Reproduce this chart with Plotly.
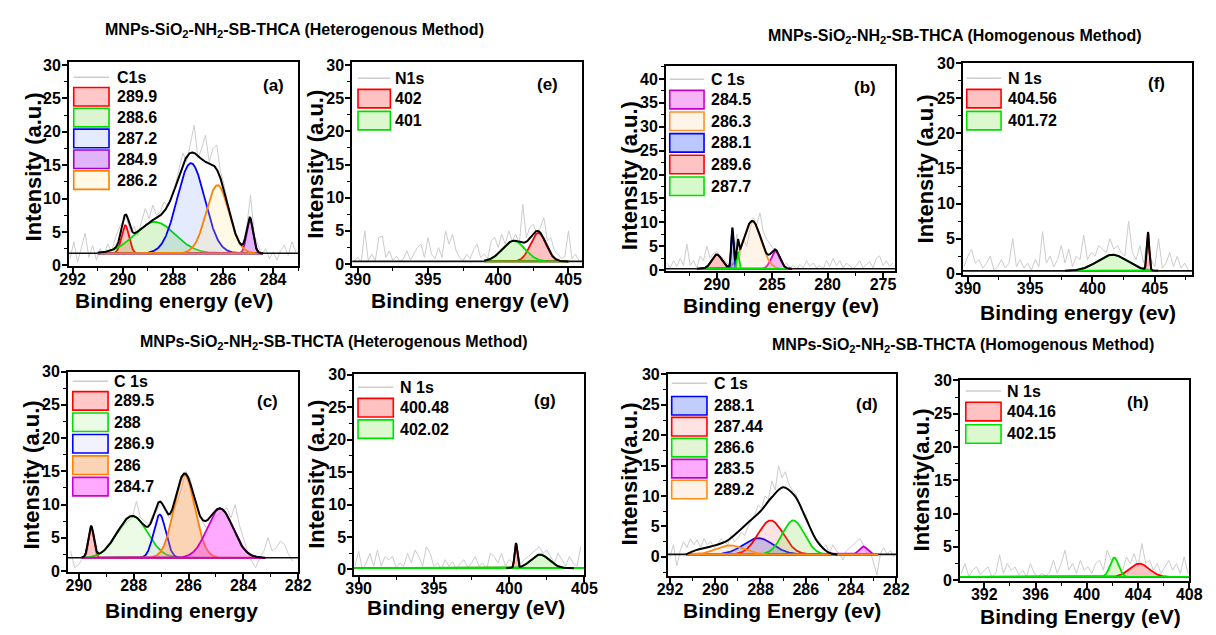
import numpy as np
import plotly.graph_objects as go

W, H = 1216, 635
FONT = "Liberation Sans, Arial, Helvetica, sans-serif"

# =========================== DATA ===========================
# (a) THCA heterogenous - C1s
a_raw_x0, a_raw_dx = 292.1, -0.15
a_raw_y = [1.0, 3.5, 0.5, 2.8, 4.8, 1.2, 3.0, 0.8, 2.5, 1.5, 3.2, 2.0, 4.0, 5.5, 6.5, 7.2,
           5.0, 5.8, 4.5, 6.5, 8.5, 7.0, 9.0, 7.5, 8.0, 9.5, 8.8, 10.5, 12.0, 14.5, 16.8,
           15.5, 18.0, 21.0, 16.0, 17.5, 19.5, 15.5, 17.5, 18.0, 14.0, 12.0, 9.0, 6.5, 5.0,
           3.5, 3.0, 6.0, 10.5, 4.5, 3.0, 1.5, 2.5, 1.0, 2.0, 0.8, 2.2, 3.0, 1.5, 3.5, 2.0]
a_baseline = 1.8
a_peak_labels = ["289.9", "288.6", "287.2", "284.9", "286.2"]
a_peak_center = [289.9, 288.72, 287.28, 284.93, 286.22]
a_peak_height = [4.2, 4.7, 13.5, 5.2, 10.2]
a_peak_sigma = [0.15, 0.8, 0.55, 0.13, 0.45]
a_fit_window = [291.0, 284.4]
a_xticks = [292, 290, 288, 286, 284]
a_yticks = [0, 5, 10, 15, 20, 25, 30]

# (e) THCA heterogenous - N1s
e_raw_x0, e_raw_dx = 389.75, 0.25
e_raw_y = [0.5, 1.0, 0.3, 5.0, 0.5, 1.5, 0.5, 4.0, 4.2, 1.0, 2.0, 0.5, 1.2, 0.4, 0.8, 2.0,
           0.6, 1.5, 2.5, 3.0, 1.0, 4.0, 1.5, 0.8, 2.5, 1.0, 5.0, 3.0, 4.5, 2.0, 1.0, 0.5,
           1.5, 0.8, 2.2, 3.0, 1.0, 1.5, 0.8, 3.5, 4.0, 2.5, 4.5, 3.0, 5.0, 3.5, 4.5, 3.0,
           9.0, 4.0, 5.5, 6.0, 4.5, 5.5, 7.0, 3.5, 4.0, 2.0, 1.5, 0.8, 1.2, 5.0, 0.8, 1.5, 0.5]
e_baseline = 0.4
e_peak_labels = ["402", "401"]
e_peak_center = [402.85, 401.1]
e_peak_height = [4.3, 3.1]
e_peak_sigma = [0.55, 0.8]
e_fit_window = [399.0, 405.0]
e_xticks = [390, 395, 400, 405]
e_yticks = [0, 5, 10, 15, 20, 25, 30]

# (b) THCA homogenous - C 1s
b_raw_x0, b_raw_dx = 294.5, -0.3
b_raw_y = [1.5, 0.5, 2.0, 0.8, 2.5, 1.0, 5.5, 1.0, 2.0, 0.5, 3.0, 2.0, 5.0, 2.5, 3.5, 4.0,
           3.0, 2.5, 1.5, 1.0, 2.0, 7.5, 3.0, 6.5, 5.0, 8.5, 11.0, 9.5, 12.0, 8.0, 6.5, 5.5,
           4.5, 3.5, 2.0, 1.0, 1.5, 0.5, 1.0, 0.3, 1.2, 0.5, 2.0, 0.8, 1.5, 0.5, 1.0, 0.3,
           2.0, 0.8, 2.5, 1.0, 2.0, 0.5, 1.5, 0.8, 0.3, 1.0, 2.0, 0.5, 1.2, 1.8, 0.5, 2.5,
           3.0, 1.0, 2.0, 0.8, 1.5]
b_baseline = 0.3
b_peak_labels = ["284.5", "286.3", "288.1", "289.6", "287.7"]
b_peak_center = [284.7, 286.8, 288.6, 290.0, 288.1]
b_peak_height = [3.7, 10.0, 7.8, 3.0, 3.5]
b_peak_sigma = [0.4, 0.8, 0.1, 0.45, 0.09]
b_fit_window = [291.8, 283.2]
b_xticks = [290, 285, 280, 275]
b_yticks = [0, 5, 10, 15, 20, 25, 30, 35, 40]

# (f) THCA homogenous - N 1s
f_raw_x0, f_raw_dx = 389.7, 0.3
f_raw_y = [1.0, 2.5, 3.5, 1.5, 2.0, 0.8, 1.5, 2.5, 0.5, 1.0, 2.0, 0.8, 1.5, 5.0, 1.0, 2.0,
           0.8, 1.5, 0.5, 2.0, 1.0, 6.0, 1.5, 2.5, 1.0, 2.0, 4.0, 1.5, 3.5, 1.0, 2.5, 2.0,
           5.5, 2.0, 3.0, 2.5, 4.0, 3.5, 3.0, 5.0, 3.5, 4.0, 3.0, 2.5, 7.5, 3.0, 2.0, 4.0,
           1.5, 5.0, 2.0, 1.0, 5.0, 0.8, 1.5, 3.0, 1.0, 2.5, 0.8, 1.5, 0.5]
f_baseline = 0.4
f_peak_labels = ["404.56", "401.72"]
f_peak_center = [404.45, 401.6]
f_peak_height = [5.4, 2.3]
f_peak_sigma = [0.1, 1.2]
f_fit_window = [397.8, 405.3]
f_xticks = [390, 395, 400, 405]
f_yticks = [0, 5, 10, 15, 20, 25, 30]

# (c) THCTA heterogenous - C 1s
c_raw_x0, c_raw_dx = 290.3, -0.15
c_raw_y = [3.0, 0.5, 1.0, 2.0, 2.5, 6.8, 3.5, 2.5, 3.0, 4.0, 4.5, 5.5, 6.0, 7.0, 7.5, 8.0,
           10.5, 8.0, 7.5, 7.0, 8.5, 9.0, 10.5, 9.0, 8.0, 9.0, 10.5, 12.5, 15.0, 14.0, 11.5,
           9.0, 7.5, 6.5, 7.0, 8.0, 8.5, 9.0, 9.5, 8.0, 10.0, 7.0, 5.0, 3.0, 1.5, 0.5, 2.0,
           3.0, 5.0, 3.0, 3.5, 4.5, 4.0, 2.5, 1.5]
c_baseline = 2.0
c_peak_labels = ["289.5", "288", "286.9", "286", "284.7"]
c_peak_center = [289.55, 288.05, 287.05, 286.15, 284.85]
c_peak_height = [4.6, 6.3, 6.5, 12.5, 7.4]
c_peak_sigma = [0.1, 0.55, 0.22, 0.38, 0.47]
c_fit_window = [289.9, 283.2]
c_xticks = [290, 288, 286, 284, 282]
c_yticks = [0, 5, 10, 15, 20, 25, 30]

# (g) THCTA heterogenous - N 1s
g_raw_x0, g_raw_dx = 389.75, 0.25
g_raw_y = [0.5, 2.8, 0.0, 1.0, 2.5, 0.5, 3.0, 0.5, 2.0, 1.5, 2.0, 0.3, 1.0, 0.5, 2.5, 1.0,
           3.0, 2.0, 0.5, 3.5, 2.5, 0.5, 1.0, 0.0, 1.5, 0.5, 1.2, 0.0, 1.0, 1.5, 0.3, 1.0,
           2.0, 0.5, 1.0, 0.0, 2.5, 2.0, 1.0, 2.5, 0.5, 1.5, 1.0, 3.5, 0.8, 1.5, 2.0, 2.5,
           3.0, 3.5, 2.5, 3.0, 2.0, 1.0, 2.5, 1.5, 0.5, 2.0, 1.0, 0.5, 3.5]
g_baseline = 0.2
g_peak_labels = ["400.48", "402.02"]
g_peak_center = [400.45, 402.05]
g_peak_height = [3.8, 2.1]
g_peak_sigma = [0.09, 0.6]
g_fit_window = [389.7, 405.0]
g_env_window = [399.8, 404.3]
g_xticks = [390, 395, 400, 405]
g_yticks = [0, 5, 10, 15, 20, 25, 30]

# (d) THCTA homogenous - C 1s
d_raw_x0, d_raw_dx = 292.0, -0.15
d_raw_y = [0.0, 2.0, -1.5, 1.0, 2.5, 1.5, 3.0, 2.0, 2.8, 1.5, 3.0, 2.0, 2.5, 1.5, 2.0, 3.0,
           2.5, 2.0, 3.5, 2.5, 3.0, 4.0, 3.5, 5.0, 6.0, 7.0, 8.5, 8.0, 10.0, 9.5, 12.5, 11.0,
           15.0, 13.0, 14.0, 12.0, 11.0, 10.5, 9.0, 7.5, 7.0, 5.0, 4.0, 3.0, 2.5, 1.5, 2.0,
           0.5, 2.0, 1.0, 0.5, -0.5, 1.0, 1.5, 2.0, 2.5, 3.0, 2.0, 0.5, 1.0, -1.0, -3.0, 0.5,
           1.5, 0.5, 1.0, 0.0]
d_baseline = 0.4
d_peak_labels = ["288.1", "287.44", "286.6", "283.5", "289.2"]
d_peak_center = [288.1, 287.55, 286.55, 283.45, 289.35]
d_peak_height = [2.7, 5.6, 5.6, 1.3, 1.5]
d_peak_sigma = [0.65, 0.55, 0.48, 0.18, 0.6]
d_fit_window = [291.3, 282.8]
d_env_x = [291.3, 290.85, 290.2, 289.5, 289.0, 288.5, 288.0, 287.5, 287.0, 286.5, 286.0,
           285.5, 285.0, 284.6]
d_env_y = [0.4, 1.1, 1.7, 2.6, 4.1, 5.8, 7.5, 9.8, 11.45, 10.1, 6.4, 2.6, 0.75, 0.4]
d_xticks = [292, 290, 288, 286, 284, 282]
d_yticks = [0, 5, 10, 15, 20, 25, 30]

# (h) THCTA homogenous - N 1s
h_raw_x0, h_raw_dx = 390.2, 0.3
h_raw_y = [1.0, 2.5, 0.5, 1.5, 2.0, 0.8, 1.5, 2.0, 0.5, 1.0, 3.8, 1.0, 2.5, 1.5, 2.0, 0.8,
           1.5, 0.5, 2.5, 1.0, 0.5, 1.0, 0.6, 1.2, 3.0, 1.0, 2.5, 4.5, 1.5, 2.5, 1.0, 3.0,
           1.5, 2.0, 1.0, 2.5, 3.0, 1.5, 4.5, 3.0, 3.5, 2.0, 1.5, 3.5, 2.5, 4.0, 2.0, 5.5,
           2.5, 3.0, 1.5, 2.5, 1.0, 2.0, 3.0, 1.5, 2.5, 1.0, 3.5, 1.0]
h_baseline = 0.5
h_peak_labels = ["404.16", "402.15"]
h_peak_center = [404.1, 402.15]
h_peak_height = [2.0, 2.9]
h_peak_sigma = [0.75, 0.33]
h_fit_window = [390.1, 408.0]
h_xticks = [392, 396, 400, 404, 408]
h_yticks = [0, 5, 10, 15, 20, 25, 30]

titles = ["MNPs-SiO<sub>2</sub>-NH<sub>2</sub>-SB-THCA (Heterogenous Method)",
          "MNPs-SiO<sub>2</sub>-NH<sub>2</sub>-SB-THCA (Homogenous Method)",
          "MNPs-SiO<sub>2</sub>-NH<sub>2</sub>-SB-THCTA (Heterogenous Method)",
          "MNPs-SiO<sub>2</sub>-NH<sub>2</sub>-SB-THCTA (Homogenous Method)"]

# =========================== STYLE ===========================
RED = ('#ff0000', 'rgba(255,0,0,0.24)')
GRN = ('#00e000', 'rgba(90,225,30,0.22)')

panels = [
    dict(raw=(a_raw_x0, a_raw_dx, a_raw_y), base=a_baseline, labels=a_peak_labels,
         c=a_peak_center, h=a_peak_height, s=a_peak_sigma, fit=a_fit_window, env='sum',
         colors=[('#ff0000', 'rgba(255,0,0,0.22)'), ('#00dd00', 'rgba(60,200,0,0.18)'),
                 ('#0000ff', 'rgba(40,90,255,0.12)'), ('#a000c8', 'rgba(170,40,240,0.35)'),
                 ('#ff8000', 'rgba(255,225,130,0.2)')],
         frame=(59, 55, 293, 265), xr=[292.15, 283.0], yr=[-0.15, 30.5],
         xt=a_xticks, yt=a_yticks, xm=1, ym=2.5, rawlab='C1s', letter='(a)', lpos=(268, 79),
         xtitle='Binding energy (eV)', xtp=(166, 300), ytitle='Intensity (a.u.)', ytp=(23, 163),
         leg=dict(ly=16, bx0=5, bx1=41, c0=36, dy=21.4, tx=47)),
    dict(raw=(e_raw_x0, e_raw_dx, e_raw_y), base=e_baseline, labels=e_peak_labels,
         c=e_peak_center, h=e_peak_height, s=e_peak_sigma, fit=e_fit_window, env='sum',
         colors=[RED, GRN],
         frame=(348, 55, 583, 265), xr=[389.6, 406.0], yr=[-0.34, 30.5],
         xt=e_xticks, yt=e_yticks, xm=2.5, ym=2.5, rawlab='N1s', letter='(e)', lpos=(547, 78),
         xtitle='Binding energy (eV)', xtp=(468, 300), ytitle='Intensity (a.u.)', ytp=(311, 160),
         leg=dict(ly=17, bx0=6, bx1=39, c0=38, dy=22.5, tx=42)),
    dict(raw=(b_raw_x0, b_raw_dx, b_raw_y), base=b_baseline, labels=b_peak_labels,
         c=b_peak_center, h=b_peak_height, s=b_peak_sigma, fit=b_fit_window, env='sum',
         colors=[('#c800c8', 'rgba(230,40,230,0.35)'), ('#ff9030', 'rgba(250,210,160,0.25)'),
                 ('#0000ff', 'rgba(30,70,255,0.3)'), ('#ff0000', 'rgba(255,40,40,0.28)'),
                 ('#00e000', 'rgba(90,230,40,0.25)')],
         frame=(668, 60, 902, 270), xr=[294.6, 273.9], yr=[-0.2, 42.6],
         xt=b_xticks, yt=b_yticks, xm=2.5, ym=2.5, rawlab='C 1s', letter='(b)', lpos=(871, 82),
         xtitle='Binding energy (ev)', xtp=(785, 305), ytitle='Intensity (a.u.)', ytp=(631, 172),
         leg=dict(ly=13, bx0=4, bx1=39, c0=34, dy=22.2, tx=44)),
    dict(raw=(f_raw_x0, f_raw_dx, f_raw_y), base=f_baseline, labels=f_peak_labels,
         c=f_peak_center, h=f_peak_height, s=f_peak_sigma, fit=f_fit_window, env='sum',
         colors=[RED, GRN],
         frame=(971, 56, 1205, 274), xr=[389.6, 408.0], yr=[-0.2, 30.1],
         xt=f_xticks, yt=f_yticks, xm=2.5, ym=2.5, rawlab='N 1s', letter='(f)', lpos=(1169, 77),
         xtitle='Binding energy (ev)', xtp=(1088, 312), ytitle='Intensity (a.u.)', ytp=(933, 165),
         leg=dict(ly=16, bx0=4, bx1=39, c0=37, dy=22.5, tx=44)),
    dict(raw=(c_raw_x0, c_raw_dx, c_raw_y), base=c_baseline, labels=c_peak_labels,
         c=c_peak_center, h=c_peak_height, s=c_peak_sigma, fit=c_fit_window, env='sum',
         colors=[('#ff0000', 'rgba(255,0,0,0.22)'), ('#00dd00', 'rgba(120,230,80,0.15)'),
                 ('#0000ff', 'rgba(90,90,255,0.08)'), ('#ff8000', 'rgba(245,140,60,0.38)'),
                 ('#cc00cc', 'rgba(255,40,255,0.4)')],
         frame=(58, 373, 293, 579), xr=[290.4, 282.0], yr=[-0.2, 30.0],
         xt=c_xticks, yt=c_yticks, xm=1, ym=2.5, rawlab='C 1s', letter='(c)', lpos=(262, 404),
         xtitle='Binding energy', xtp=(174, 618), ytitle='Intensity (a.u.)', ytp=(21, 479),
         leg=dict(ly=10, bx0=5, bx1=41, c0=30, dy=22, tx=45)),
    dict(raw=(g_raw_x0, g_raw_dx, g_raw_y), base=g_baseline, labels=g_peak_labels,
         c=g_peak_center, h=g_peak_height, s=g_peak_sigma, fit=g_fit_window, env='sum',
         envwin=g_env_window, colors=[RED, GRN],
         frame=(350, 375, 585, 582), xr=[389.7, 405.0], yr=[-0.9, 30.15],
         xt=g_xticks, yt=g_yticks, xm=2.5, ym=2.5, rawlab='N 1s', letter='(g)', lpos=(545, 403),
         xtitle='Binding energy (eV)', xtp=(464, 615), ytitle='Intensity (a.u.)', ytp=(312, 478),
         leg=dict(ly=14, bx0=4, bx1=40, c0=35, dy=22, tx=45)),
    dict(raw=(d_raw_x0, d_raw_dx, d_raw_y), base=d_baseline, labels=d_peak_labels,
         c=d_peak_center, h=d_peak_height, s=d_peak_sigma, fit=d_fit_window,
         env=(d_env_x, d_env_y),
         colors=[('#0000ff', 'rgba(50,90,240,0.3)'), ('#ff0000', 'rgba(255,80,80,0.16)'),
                 ('#00e000', 'rgba(110,210,50,0.2)'), ('#c000c0', 'rgba(255,40,255,0.4)'),
                 ('#ff8c1a', 'rgba(250,180,110,0.18)')],
         frame=(670, 375, 903, 583), xr=[292.1, 282.0], yr=[-3.2, 30.15],
         xt=d_xticks, yt=d_yticks, xm=1, ym=2.5, rawlab='C 1s', letter='(d)', lpos=(873, 407),
         xtitle='Binding Energy (ev)', xtp=(787, 618), ytitle='Intensity(a.u.)', ytp=(631, 478),
         leg=dict(ly=10, bx0=4, bx1=40, c0=33, dy=21.5, tx=45)),
    dict(raw=(h_raw_x0, h_raw_dx, h_raw_y), base=h_baseline, labels=h_peak_labels,
         c=h_peak_center, h=h_peak_height, s=h_peak_sigma, fit=h_fit_window, env=None,
         colors=[RED, GRN],
         frame=(968, 382, 1202, 588), xr=[390.1, 408.0], yr=[-0.15, 30.0],
         xt=h_xticks, yt=h_yticks, xm=2, ym=2.5, rawlab='N 1s', letter='(h)', lpos=(1150, 405),
         xtitle='Binding Energy (eV)', xtp=(1091, 624), ytitle='Intensity(a.u.)', ytp=(929, 484),
         leg=dict(ly=11, bx0=6, bx1=42, c0=32, dy=23, tx=46)),
]

title_pos = [(289, 23), (963, 29), (330, 343), (971, 346)]


def px(x):
    return x / W


def py(y):
    return 1 - y / H


def gauss(x, c, h, s):
    return h * np.exp(-0.5 * ((x - c) / s) ** 2)


fig = go.Figure()
shapes, annots = [], []
layout = {}
bold = dict(family=FONT, color='black', weight='bold')

for i, p in enumerate(panels, start=1):
    xa = 'x' if i == 1 else f'x{i}'
    ya = 'y' if i == 1 else f'y{i}'
    L, T, R, B = p['frame']
    common = dict(showgrid=False, zeroline=False, showline=True, linecolor='black',
                  linewidth=1.6, mirror=True, ticks='outside', ticklen=5, tickwidth=1.5,
                  tickcolor='black', tickfont=dict(size=16, **bold))
    layout['xaxis' if i == 1 else f'xaxis{i}'] = dict(
        domain=[px(L), px(R)], anchor=ya, range=p['xr'], tickmode='array',
        tickvals=p['xt'], ticklabelstandoff=-7,
        minor=dict(ticks='outside', ticklen=3, tickwidth=1.2,
                   tickcolor='black', tick0=0, dtick=p['xm']), **common)
    layout['yaxis' if i == 1 else f'yaxis{i}'] = dict(
        domain=[py(B), py(T)], anchor=xa, range=p['yr'], tickmode='array',
        tickvals=p['yt'], ticklabelstandoff=-2,
        minor=dict(ticks='outside', ticklen=3, tickwidth=1.2,
                   tickcolor='black', tick0=0, dtick=p['ym']), **common)

    x0, dx, ry = p['raw']
    rx = x0 + dx * np.arange(len(ry))
    fig.add_trace(go.Scatter(x=rx, y=ry, mode='lines', line=dict(color='#cccccc', width=1),
                             xaxis=xa, yaxis=ya, showlegend=False, hoverinfo='skip'))
    base = p['base']
    fig.add_trace(go.Scatter(x=p['xr'], y=[base, base], mode='lines',
                             line=dict(color='#111111', width=1.6),
                             xaxis=xa, yaxis=ya, showlegend=False, hoverinfo='skip'))
    xg = np.linspace(p['fit'][0], p['fit'][1], 700)
    total = np.full_like(xg, base)
    for c, h, s, (lc, fc) in zip(p['c'], p['h'], p['s'], p['colors']):
        g = gauss(xg, c, h, s)
        total += g
        fig.add_trace(go.Scatter(x=np.concatenate([xg, xg[::-1]]),
                                 y=np.concatenate([base + g, np.full_like(xg, base)]),
                                 mode='lines', fill='toself', fillcolor=fc,
                                 line=dict(color=lc, width=1.8), xaxis=xa, yaxis=ya,
                                 showlegend=False, hoverinfo='skip'))
    if p['env'] == 'sum':
        ex, ey = xg, total
        if 'envwin' in p:
            m = (xg >= p['envwin'][0]) & (xg <= p['envwin'][1])
            ex, ey = xg[m], total[m]
        fig.add_trace(go.Scatter(x=ex, y=ey, mode='lines', line=dict(color='black', width=2),
                                 xaxis=xa, yaxis=ya, showlegend=False, hoverinfo='skip'))
    elif p['env'] is not None:
        fig.add_trace(go.Scatter(x=p['env'][0], y=p['env'][1], mode='lines',
                                 line=dict(color='black', width=2, shape='spline', smoothing=1.0),
                                 xaxis=xa, yaxis=ya, showlegend=False, hoverinfo='skip'))

    # legend drawn as shapes + text
    lg = p['leg']
    shapes.append(dict(type='line', xref='paper', yref='paper',
                       x0=px(L + lg['bx0']), x1=px(L + lg['bx1']),
                       y0=py(T + lg['ly']), y1=py(T + lg['ly']),
                       line=dict(color='#cccccc', width=1.5)))
    annots.append(dict(x=px(L + lg['tx']), y=py(T + lg['ly']), xref='paper', yref='paper',
                       text=p['rawlab'], showarrow=False, xanchor='left', yanchor='middle',
                       font=dict(size=16, **bold)))
    for k, (lab, (lc, fc)) in enumerate(zip(p['labels'], p['colors'])):
        cy = T + lg['c0'] + k * lg['dy']
        shapes.append(dict(type='rect', xref='paper', yref='paper',
                           x0=px(L + lg['bx0']), x1=px(L + lg['bx1']),
                           y0=py(cy + 9.5), y1=py(cy - 9.5), fillcolor=fc,
                           line=dict(color=lc, width=1.6)))
        annots.append(dict(x=px(L + lg['tx']), y=py(cy), xref='paper', yref='paper',
                           text=lab, showarrow=False, xanchor='left', yanchor='middle',
                           font=dict(size=16, **bold)))
    annots.append(dict(x=px(p['lpos'][0]), y=py(p['lpos'][1]), xref='paper', yref='paper',
                       text=p['letter'], showarrow=False, xanchor='center', yanchor='middle',
                       font=dict(size=17, **bold)))
    annots.append(dict(x=px(p['xtp'][0]), y=py(p['xtp'][1]), xref='paper', yref='paper',
                       text=p['xtitle'], showarrow=False, xanchor='center', yanchor='middle',
                       font=dict(size=21, **bold)))
    annots.append(dict(x=px(p['ytp'][0]), y=py(p['ytp'][1]), xref='paper', yref='paper',
                       text=p['ytitle'], showarrow=False, xanchor='center', yanchor='middle',
                       textangle=-90, font=dict(size=22, **bold)))

for t, (tx, ty) in zip(titles, title_pos):
    annots.append(dict(x=px(tx), y=py(ty), xref='paper', yref='paper', text=t,
                       showarrow=False, xanchor='center', yanchor='middle',
                       font=dict(size=16, **bold)))

fig.update_layout(width=W, height=H, margin=dict(l=0, r=0, t=0, b=0),
                  paper_bgcolor='white', plot_bgcolor='white', showlegend=False,
                  shapes=shapes, annotations=annots, **layout)
fig.write_html("out.html")
